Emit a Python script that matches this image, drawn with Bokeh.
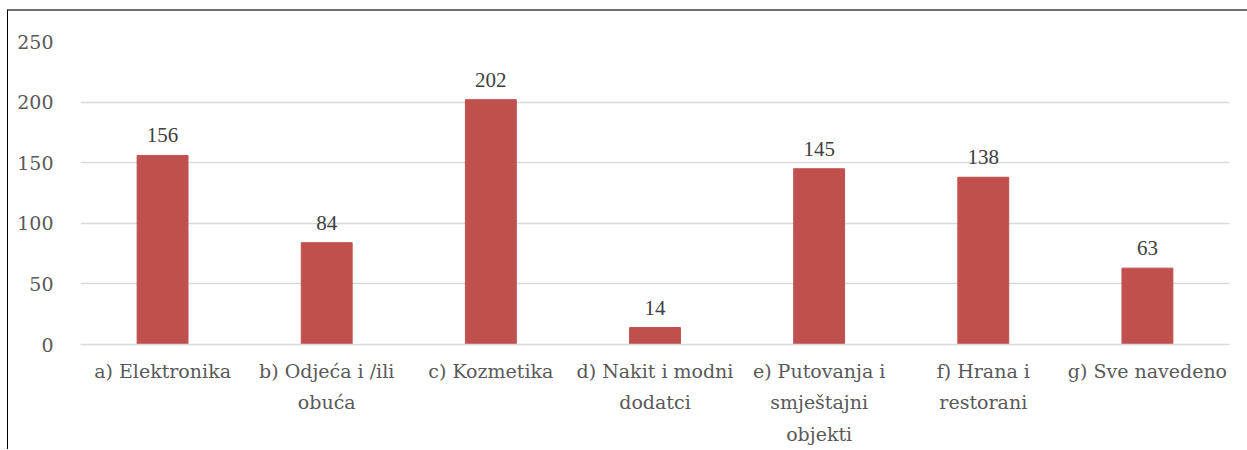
from bokeh.plotting import figure
from bokeh.models import ColumnDataSource, LabelSet, Range1d, FactorRange
from bokeh.embed import file_html
from bokeh.resources import INLINE

categories = ["a) Elektronika", "b) Odjeća i /ili\nobuća", "c) Kozmetika",
              "d) Nakit i modni\ndodatci", "e) Putovanja i\nsmještajni\nobjekti",
              "f) Hrana i\nrestorani", "g) Sve navedeno"]
values = [156, 84, 202, 14, 145, 138, 63]
labels = [str(v) for v in values]
y_ticks = [0, 50, 100, 150, 200, 250]

FONT = "DejaVu Serif"
SIZE = "19px"
TXT = "#595959"

src = ColumnDataSource(dict(cat=categories, val=values, lab=labels))

p = figure(x_range=FactorRange(*categories, range_padding=0), y_range=Range1d(0, 250),
           width=1240, height=440, output_backend="svg", toolbar_location=None,
           min_border_left=72, min_border_right=19, min_border_top=30, min_border_bottom=107)
p.styles = {"border-top": "2px solid #6f6f6f", "border-left": "1px solid #000000",
            "margin-left": "7px", "margin-top": "9px"}
p.outline_line_color = None
p.vbar(x="cat", top="val", width=0.31, source=src, color="#C0504D")

p.add_layout(LabelSet(x="cat", y="val", text="lab", source=src, y_offset=13,
                      text_align="center", text_baseline="bottom",
                      text_font=FONT, text_font_size="21px", text_color="#404040"))

p.xgrid.grid_line_color = None
p.ygrid.grid_line_color = "#d9d9d9"
p.ygrid.grid_line_width = 1.5
p.yaxis.ticker = y_ticks
p.yaxis.axis_line_color = None
p.yaxis.major_tick_line_color = None
p.yaxis.minor_tick_line_color = None
p.yaxis.major_label_standoff = 21
p.xaxis.axis_line_color = "#d9d9d9"
p.xaxis.axis_line_width = 1.5
p.xaxis.major_tick_line_color = None
p.xaxis.minor_tick_line_color = None
p.xaxis.major_label_standoff = 9
p.xaxis.major_label_text_line_height = 1.45
for ax in (p.xaxis, p.yaxis):
    ax.major_label_text_font = FONT
    ax.major_label_text_font_size = SIZE
    ax.major_label_text_color = TXT

open("out.html", "w").write(file_html(p, INLINE))
